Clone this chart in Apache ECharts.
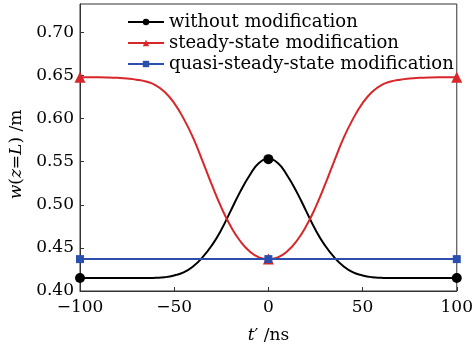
<!DOCTYPE html>
<html>
<head>
<meta charset="utf-8">
<script src="https://cdn.jsdelivr.net/npm/echarts@6/dist/echarts.min.js"></script>
<style>
  html, body { margin: 0; padding: 0; background: #fff; }
  #chart { width: 476px; height: 350px; }
</style>
</head>
<body>
<div id="chart"></div>
<script>
// time axis t' (ns)
var times = [-100, -95, -90, -85, -80, -75, -70, -65, -60, -55, -50, -45, -40, -35, -30, -25, -20, -15, -10, -5, 0,
             5, 10, 15, 20, 25, 30, 35, 40, 45, 50, 55, 60, 65, 70, 75, 80, 85, 90, 95, 100];

var withoutMod = [0.415, 0.415, 0.415, 0.415, 0.415, 0.415, 0.415, 0.415, 0.4153, 0.416, 0.418, 0.4215, 0.4285, 0.439, 0.453, 0.471, 0.493, 0.515, 0.534, 0.5485, 0.553,
                  0.5485, 0.534, 0.515, 0.493, 0.471, 0.453, 0.439, 0.4285, 0.4215, 0.418, 0.416, 0.4153, 0.415, 0.415, 0.415, 0.415, 0.415, 0.415, 0.415, 0.415];

var steadyMod = [0.648, 0.648, 0.648, 0.6478, 0.6473, 0.6465, 0.6452, 0.643, 0.639, 0.631, 0.618, 0.600, 0.578, 0.551, 0.523, 0.497, 0.475, 0.458, 0.446, 0.439, 0.437,
                 0.439, 0.446, 0.458, 0.475, 0.497, 0.523, 0.551, 0.578, 0.600, 0.618, 0.631, 0.639, 0.643, 0.6452, 0.6465, 0.6473, 0.6478, 0.648, 0.648, 0.648];

var quasiMod = [0.437, 0.437, 0.437, 0.437, 0.437, 0.437, 0.437, 0.437, 0.437, 0.437, 0.437, 0.437, 0.437, 0.437, 0.437, 0.437, 0.437, 0.437, 0.437, 0.437, 0.437,
                0.437, 0.437, 0.437, 0.437, 0.437, 0.437, 0.437, 0.437, 0.437, 0.437, 0.437, 0.437, 0.437, 0.437, 0.437, 0.437, 0.437, 0.437, 0.437, 0.437];

// points that carry a marker
var markerTimes = [-100, 0, 100];

var seriesNames = ['without modification', 'steady-state modification', 'quasi-steady-state modification'];

var FONT = 'DejaVu Serif';

function pairs(vals) {
    return times.map(function (t, i) { return [t, vals[i]]; });
}

function markerSize(size) {
    return function (v) {
        return markerTimes.indexOf(v[0]) >= 0 ? size : 0;
    };
}

var chartDom = document.getElementById('chart');
var myChart = echarts.init(chartDom, null, { renderer: 'canvas' });

var option = {
    animation: false,
    grid: {
        left: 78,
        right: 15,
        top: 4,
        bottom: 59,
        show: true,
        borderColor: '#333',
        borderWidth: 1
    },
    legend: {
        orient: 'vertical',
        left: 122,
        top: 8,
        itemWidth: 36,
        itemHeight: 8,
        itemGap: 3,
        data: seriesNames,
        textStyle: {
            fontFamily: FONT,
            fontSize: 18,
            lineHeight: 18,
            color: '#000'
        }
    },
    xAxis: {
        type: 'value',
        min: -100,
        max: 100,
        interval: 50,
        name: '{i|t}′ /ns',
        nameLocation: 'middle',
        nameGap: 36,
        nameTextStyle: {
            fontFamily: FONT,
            fontSize: 17,
            color: '#000',
            rich: { i: { fontFamily: FONT, fontSize: 17, fontStyle: 'italic', color: '#000' } }
        },
        axisLine: { show: true, onZero: false, lineStyle: { color: '#333', width: 1 } },
        axisTick: { show: true, inside: true, length: 4, lineStyle: { color: '#333' } },
        splitLine: { show: false },
        axisLabel: {
            fontFamily: FONT,
            fontSize: 17,
            color: '#000',
            margin: 8,
            formatter: function (v) { return String(v).replace('-', '\u2212'); }
        }
    },
    yAxis: {
        type: 'value',
        min: 0.40,
        max: 0.733,
        interval: 0.05,
        name: '{i|w}({i|z}={i|L}) /m',
        nameLocation: 'middle',
        nameRotate: 90,
        nameGap: 55,
        nameTextStyle: {
            fontFamily: FONT,
            fontSize: 17,
            color: '#000',
            padding: [0, 14, 0, 0],
            rich: { i: { fontFamily: FONT, fontSize: 17, fontStyle: 'italic', color: '#000' } }
        },
        axisLine: { show: true, onZero: false, lineStyle: { color: '#333', width: 1 } },
        axisTick: { show: true, inside: true, length: 4, lineStyle: { color: '#333' } },
        splitLine: { show: false },
        axisLabel: {
            fontFamily: FONT,
            fontSize: 17,
            color: '#000',
            margin: 6,
            showMaxLabel: false,
            formatter: function (v) { return v.toFixed(2); }
        }
    },
    series: [
        {
            name: seriesNames[0],
            type: 'line',
            smooth: true,
            symbol: 'circle',
            symbolSize: markerSize(10),
            lineStyle: { color: '#000', width: 2 },
            itemStyle: { color: '#000' },
            data: pairs(withoutMod)
        },
        {
            name: seriesNames[1],
            type: 'line',
            smooth: true,
            symbol: 'triangle',
            symbolSize: markerSize(11),
            lineStyle: { color: '#d8262a', width: 2 },
            itemStyle: { color: '#d8262a' },
            data: pairs(steadyMod)
        },
        {
            name: seriesNames[2],
            type: 'line',
            smooth: true,
            symbol: 'rect',
            symbolSize: markerSize(8),
            lineStyle: { color: '#2a4fae', width: 2 },
            itemStyle: { color: '#2a4fae' },
            data: pairs(quasiMod)
        }
    ]
};

option && myChart.setOption(option);
</script>
</body>
</html>
